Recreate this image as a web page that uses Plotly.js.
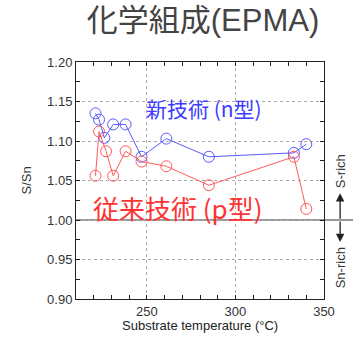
<!DOCTYPE html>
<html>
<head>
<meta charset="utf-8">
<script src="https://cdn.plot.ly/plotly-3.0.1.min.js"></script>
<style>html,body{margin:0;padding:0;background:#fff;overflow:hidden;}#chart{width:353px;height:341px;}</style>
</head>
<body>
<div id="chart"></div>
<script>
// Substrate temperature (°C)
const tempNew = [221, 223, 226, 231, 238, 247, 261, 285, 333, 340];
const ratioNew = [1.135, 1.127, 1.104, 1.121, 1.121, 1.080, 1.103, 1.080, 1.085, 1.096];
const tempOld = [221, 223, 227, 231, 238, 247, 261, 285, 333, 340];
const ratioOld = [1.056, 1.112, 1.087, 1.056, 1.087, 1.074, 1.068, 1.044, 1.080, 1.014];
const labelNew = "新技術 (n型)";
const labelOld = "従来技術 (p型)";
const chartTitle = "化学組成(EPMA)";
const xTitle = "Substrate temperature (°C)";
const yTitle = "S/Sn";
const stoich = 1.0;

const font = "Liberation Sans, Arial, Noto Sans CJK JP, sans-serif";
const cjk = "Noto Sans CJK JP, Liberation Sans, sans-serif";
const blue = "rgb(90,90,255)";
const red = "rgb(255,90,90)";

const traces = [
  {x: tempNew, y: ratioNew, mode: "lines+markers", name: labelNew,
   line: {color: blue, width: 1},
   marker: {symbol: "circle-open", size: 11, color: blue, line: {width: 1}}},
  {x: tempOld, y: ratioOld, mode: "lines+markers", name: labelOld,
   line: {color: red, width: 1},
   marker: {symbol: "circle-open", size: 11, color: red, line: {width: 1}}}
];

const axisCommon = {
  automargin: false,
  showline: true, linecolor: "#222", linewidth: 1, mirror: "ticks",
  ticks: "inside", ticklen: 4, tickcolor: "#222",
  gridcolor: "#aaa", griddash: "dot", gridwidth: 1, zeroline: false,
  tickfont: {family: font, size: 13, color: "#333"}
};

const layout = {
  width: 353, height: 341,
  margin: {l: 76, r: 29, t: 62, b: 42},
  paper_bgcolor: "#fff", plot_bgcolor: "#fff",
  showlegend: false,
  title: {text: chartTitle, font: {family: font, size: 31, color: "#444"}, x: 0.575, xanchor: "center", y: 0.94, yanchor: "middle"},
  xaxis: Object.assign({}, axisCommon, {
    range: [210, 350], tick0: 250, dtick: 50, showgrid: true,
    minor: {dtick: 10, ticks: "inside", ticklen: 4, tickcolor: "#222", showgrid: false}
  }),
  yaxis: Object.assign({}, axisCommon, {
    range: [0.90, 1.20], tick0: 0.9, dtick: 0.05, tickformat: ".2f", showgrid: true,
    minor: {dtick: 0.025, ticks: "inside", ticklen: 4, tickcolor: "#222", showgrid: false}
  }),
  shapes: [
    {type: "line", xref: "paper", yref: "y", x0: 0, x1: 1.12, y0: stoich, y1: stoich,
     line: {color: "#999", width: 2}, layer: "below"}
  ],
  annotations: [
    {xref: "paper", yref: "paper", x: 0.5, y: -0.11, text: xTitle, showarrow: false,
     font: {family: font, size: 13, color: "#222"}, xanchor: "center", yanchor: "middle"},
    {xref: "paper", yref: "paper", x: -0.2, y: 0.502, text: yTitle, showarrow: false, textangle: -90,
     font: {family: font, size: 13, color: "#333"}, xanchor: "center", yanchor: "middle"},
    {xref: "x", yref: "y", x: 282.5, y: 1.142, text: labelNew, showarrow: false,
     font: {family: cjk, size: 21, color: "rgb(60,60,255)"}, xanchor: "center", yanchor: "middle"},
    {xref: "x", yref: "y", x: 267.3, y: 1.016, text: labelOld, showarrow: false,
     font: {family: cjk, size: 26, color: "rgb(255,50,50)"}, xanchor: "center", yanchor: "middle"},
    {xref: "paper", yref: "y", x: 1.065, y: 1.062, text: "S-rich", showarrow: false, textangle: -90,
     font: {family: font, size: 13, color: "#333"}, xanchor: "center", yanchor: "middle"},
    {xref: "paper", yref: "y", x: 1.065, y: 0.939, text: "Sn-rich", showarrow: false, textangle: -90,
     font: {family: font, size: 13, color: "#333"}, xanchor: "center", yanchor: "middle"},
    {xref: "paper", yref: "y", x: 1.065, y: 1.034, ax: 0, ay: 27,
     text: "", showarrow: true, arrowhead: 2, arrowsize: 1.3, arrowwidth: 1.3, arrowcolor: "#222", standoff: 0},
    {xref: "paper", yref: "y", x: 1.065, y: 0.972, ax: 0, ay: -22,
     text: "", showarrow: true, arrowhead: 2, arrowsize: 1.3, arrowwidth: 1.3, arrowcolor: "#222", standoff: 0}
  ]
};

Plotly.newPlot("chart", traces, layout, {displayModeBar: false, staticPlot: true, responsive: false});
</script>
</body>
</html>
